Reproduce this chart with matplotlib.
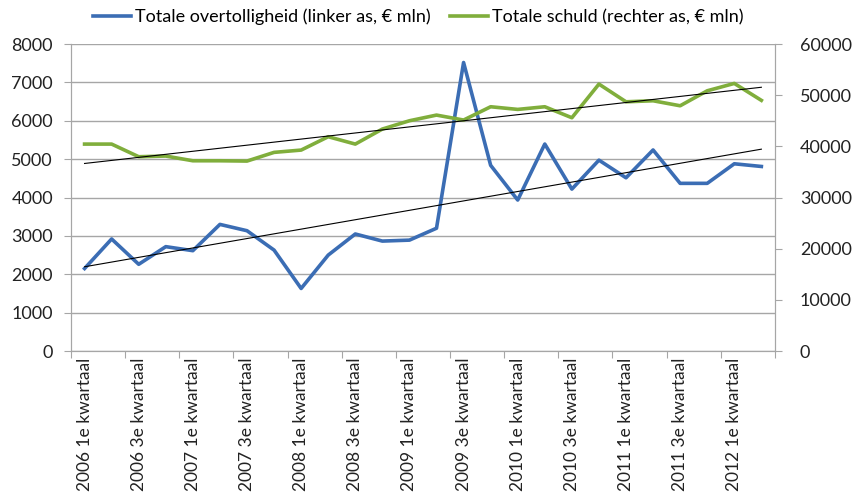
import numpy as np
import matplotlib.pyplot as plt
from matplotlib.ticker import FixedLocator

plt.rcParams['font.family'] = ['Lato', 'DejaVu Sans']

years = [2006, 2006, 2006, 2006, 2007, 2007, 2007, 2007, 2008, 2008, 2008, 2008,
         2009, 2009, 2009, 2009, 2010, 2010, 2010, 2010, 2011, 2011, 2011, 2011,
         2012, 2012]
quarters = ['1e', '2e', '3e', '4e'] * 6 + ['1e', '2e']
categories = [f'{y} {q} kwartaal' for y, q in zip(years, quarters)]

# Totale overtolligheid (linker as, € mln)
overtollig = [2150, 2920, 2260, 2720, 2615, 3300, 3135, 2630, 1630, 2500,
              3050, 2865, 2890, 3200, 7520, 4840, 3935, 5395, 4220, 4975,
              4515, 5240, 4370, 4370, 4880, 4810]
# Totale schuld (rechter as, € mln)
schuld = [40450, 40450, 37980, 38110, 37190, 37190, 37130, 38830, 39280, 41890,
          40450, 43390, 45010, 46120, 45150, 47750, 47230, 47750, 45600, 52180,
          48720, 48920, 47940, 50870, 52310, 49000]

blue = '#3B6DB4'
green = '#80AE3C'
grey = '#A6A6A6'

x = np.arange(len(categories))

fig = plt.figure(figsize=(8.61, 5.01), dpi=100)
ax = fig.add_axes([0.0825, 0.2994, 0.8175, 0.6126])
ax2 = ax.twinx()

ax.set_ylim(0, 8000)
ax.set_yticks(np.arange(0, 8001, 1000))
ax2.set_ylim(0, 60000)
ax2.set_yticks(np.arange(0, 60001, 10000))
ax.set_xlim(-0.5, len(categories) - 0.5)

ax.grid(axis='y', color=grey, linewidth=1)
ax.set_axisbelow(True)

# trendlines (linear fit)
bfit = np.polyfit(x, overtollig, 1)
gfit = np.polyfit(x, schuld, 1)
l1, = ax.plot(x, overtollig, color=blue, linewidth=2.6, solid_joinstyle='round', zorder=3)
ax.plot(x, np.polyval(bfit, x), color='black', linewidth=0.8, zorder=4)
l2, = ax2.plot(x, schuld, color=green, linewidth=2.6, solid_joinstyle='round', zorder=3)
ax2.plot(x, np.polyval(gfit, x), color='black', linewidth=0.8, zorder=4)

# x axis: boundary ticks every 2 categories, labels every 2 categories
ax.xaxis.set_major_locator(FixedLocator(np.arange(-0.5, len(categories), 2)))
ax.xaxis.set_major_formatter(plt.NullFormatter())
ax.xaxis.set_minor_locator(FixedLocator(x[::2]))
ax.set_xticklabels([categories[i] for i in x[::2]], minor=True, rotation=90)
ax.tick_params(axis='x', which='major', length=5, color=grey, direction='out')
ax.tick_params(axis='x', which='minor', length=0, labelsize=12.5, pad=5, colors='#222222')
ax.tick_params(axis='y', length=5, color=grey, labelsize=13, pad=8, labelcolor='#222222')
ax2.tick_params(axis='y', length=5, color=grey, labelsize=13, pad=13, labelcolor='#222222')

for a in (ax, ax2):
    for side in ('left', 'right', 'bottom'):
        a.spines[side].set_color(grey)
    a.spines['top'].set_visible(False)

fig.legend([l1, l2],
           ['Totale overtolligheid (linker as, € mln)', 'Totale schuld (rechter as, € mln)'],
           loc='center', bbox_to_anchor=(0.486, 0.966), ncol=2, frameon=False,
           fontsize=13, handlelength=2.1, columnspacing=1.1, handletextpad=0.2)

fig.savefig('out.png', dpi=100)
